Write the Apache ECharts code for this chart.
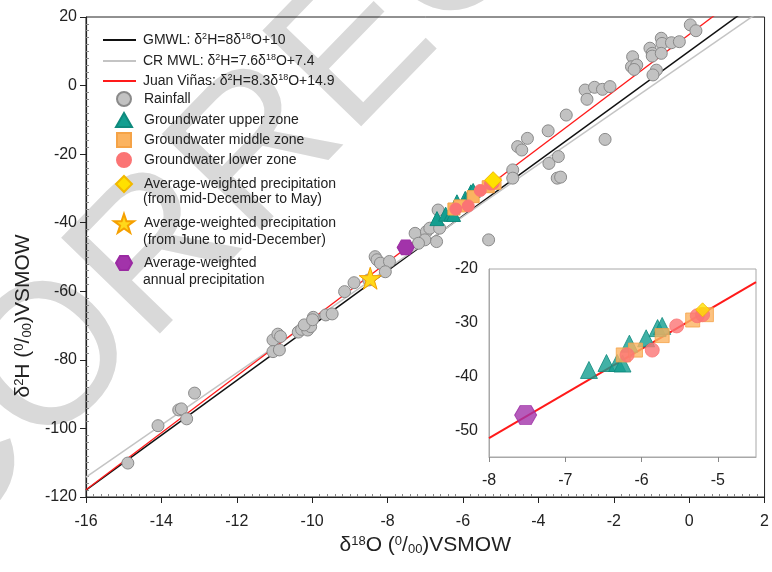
<!DOCTYPE html>
<html>
<head>
<meta charset="utf-8">
<script src="https://cdn.jsdelivr.net/npm/echarts@6/dist/echarts.min.js"></script>
<style>
  html, body { margin: 0; padding: 0; background: #fff; }
  #chart { width: 772px; height: 572px; }
</style>
</head>
<body>
<div id="chart"></div>
<script>
// --- data (delta18O, delta2H) ---
const rainfall = [
  [-14.89, -110.1], [-14.09, -99.2], [-13.54, -94.6], [-13.47, -94.3], [-13.33, -97.2], [-13.12, -89.7],
  [-11.04, -74.2], [-10.91, -72.5], [-10.84, -73.2], [-11.04, -77.6], [-10.87, -77.1],
  [-10.37, -71.9], [-10.28, -71.1], [-10.12, -71.3], [-10.04, -70.3], [-9.97, -67.6], [-9.64, -66.9], [-9.47, -66.6],
  [-10.21, -69.8], [-9.99, -68.3], [-9.14, -60.1], [-8.89, -57.5], [-8.50, -56.7],
  [-8.33, -49.9], [-8.28, -50.8], [-8.19, -51.8], [-7.95, -51.3], [-8.06, -54.3],
  [-7.27, -43.1], [-6.97, -42.6], [-6.88, -41.6], [-7.01, -45.0], [-6.70, -45.5], [-6.62, -41.6],
  [-6.66, -36.3], [-7.18, -46.0], [-5.32, -45.0],
  [-4.68, -24.6], [-4.68, -27.0], [-4.55, -17.8], [-4.44, -18.8], [-4.29, -15.4], [-3.74, -13.2],
  [-3.72, -22.7], [-3.47, -20.7], [-3.50, -27.0], [-3.41, -26.7], [-3.26, -8.6], [-2.23, -15.7],
  [-2.76, -1.3], [-2.71, -4.0], [-2.51, -0.5], [-2.30, -1.1], [-2.10, -0.3],
  [-1.50, 8.4], [-1.53, 5.5], [-1.39, 6.0], [-1.46, 4.7],
  [-1.04, 10.9], [-0.98, 9.4], [-0.98, 8.6], [-0.74, 13.8], [-0.72, 12.3], [-0.74, 9.4],
  [-0.47, 12.5], [-0.26, 12.8], [-0.87, 4.5], [-0.96, 3.1], [0.03, 17.7], [0.18, 16.0]
];
const gwUpper = [
  [-6.69, -38.8], [-6.46, -37.5], [-6.32, -37.5], [-6.25, -37.6], [-6.16, -33.9],
  [-5.94, -32.9], [-5.79, -31.0], [-5.73, -30.6]
];
const gwMiddle = [[-6.24, -36.0], [-6.08, -35.1], [-5.73, -32.4], [-5.33, -29.5], [-5.15, -28.5]];
const gwLower = [[-6.19, -36.0], [-5.86, -35.1], [-5.54, -30.6], [-5.27, -28.7], [-5.20, -28.5]];
const awpDecMay = [[-5.20, -27.6]];
const awpJunDec = [[-8.46, -56.2]];
const awpAnnual = [[-7.52, -47.2]];

// meteoric water lines: d2H = slope * d18O + intercept
const mwlNames = ['GMWL', 'CR MWL', 'Juan Viñas'];
const mwlSlopes = [8, 7.6, 8.3];
const mwlIntercepts = [10, 7.4, 14.9];
const mwlLabels = [
  'GMWL: δ{sup|2}H=8δ{sup|18}O+10',
  'CR MWL: δ{sup|2}H=7.6δ{sup|18}O+7.4',
  'Juan Viñas: δ{sup|2}H=8.3δ{sup|18}O+14.9'
];
const mwlColors = ['#111111', '#c4c4c4', '#ff1a1a'];

const xTicksInset = [-8, -7, -6, -5];
const yTicksInset = [-50, -40, -30, -20];

const FONT = '"Liberation Sans", Arial, sans-serif';
const HEX = 'path://M0,5 L2.9,0 L8.7,0 L11.6,5 L8.7,10 L2.9,10 Z';
const STAR = 'path://M50,0 L61.8,35.1 L98.9,35.1 L68.9,56.9 L80.3,91.9 L50,70.3 L19.7,91.9 L31.1,56.9 L1.1,35.1 L38.2,35.1 Z';

const sup = { fontSize: 9, verticalAlign: 'top', lineHeight: 9, fontFamily: FONT, color: '#222' };
const sub = { fontSize: 9, verticalAlign: 'bottom', lineHeight: 9, fontFamily: FONT, color: '#222' };
const titleRich = { sup: { ...sup, fontSize: 13, lineHeight: 12 }, sub: { ...sub, fontSize: 13, lineHeight: 12 } };

function lineData(i, x0, x1) {
  return [[x0, mwlSlopes[i] * x0 + mwlIntercepts[i]], [x1, mwlSlopes[i] * x1 + mwlIntercepts[i]]];
}

const chart = echarts.init(document.getElementById('chart'), null, { renderer: 'canvas' });

const series = [];
mwlNames.forEach((n, i) => {
  series.push({
    name: n, type: 'line', xAxisIndex: 0, yAxisIndex: 0,
    data: lineData(i, -16, 2), symbol: 'none', clip: true, silent: true,
    itemStyle: { color: mwlColors[i] },
    lineStyle: { color: mwlColors[i], width: i === 2 ? 1.3 : 1.5 },
    z: 1
  });
});

const markers = [
  { name: 'Rainfall', data: rainfall, symbol: 'circle', size: 12, color: '#c2c2c2', border: '#8a8a8a', icon: [14, 14] },
  { name: 'Groundwater upper zone', data: gwUpper, symbol: 'triangle', size: 14, color: '#139e90', border: '#0f8a7d', icon: [16, 14] },
  { name: 'Groundwater middle zone', data: gwMiddle, symbol: 'rect', size: 12, color: '#fbb360', border: '#f5a347', icon: [14, 14] },
  { name: 'Groundwater lower zone', data: gwLower, symbol: 'circle', size: 12, color: '#fb7474', border: '#fb7474', icon: [14, 14] },
  { name: 'Average-weighted precipitation', data: awpDecMay, symbol: 'diamond', size: 17, color: '#ffe100', border: '#f2b800', icon: [16, 16] },
  { name: 'Average-weighted precipitation ', data: awpJunDec, symbol: STAR, size: 22, color: '#ffd81a', border: '#f5a000', icon: [20, 20] },
  { name: 'Average-weighted', data: awpAnnual, symbol: HEX, size: [17, 15], color: '#a233aa', border: '#9a2aa2', icon: [16, 14] }
];
markers.forEach((m) => {
  series.push({
    name: m.name, type: 'scatter', xAxisIndex: 0, yAxisIndex: 0, data: m.data,
    symbol: m.symbol, symbolSize: m.size,
    itemStyle: { color: m.color, borderColor: m.border, borderWidth: 1, opacity: 1 },
    z: 3
  });
});

// inset
series.push({
  name: 'inset-line', type: 'line', xAxisIndex: 1, yAxisIndex: 1,
  data: lineData(2, -8, -4.5), symbol: 'none', silent: true,
  lineStyle: { color: '#ff1a1a', width: 2 }, z: 7
});
markers.slice(1).forEach((m) => {
  if (m.data === awpJunDec) return;
  let size = m.size;
  if (m.symbol === 'triangle') size = 17;
  if (m.symbol === 'rect') size = 14;
  if (m.symbol === 'circle') size = 14;
  if (m.symbol === 'diamond') size = 14;
  if (m.symbol === HEX) size = [22, 19];
  series.push({
    name: 'inset ' + m.name, type: 'scatter', xAxisIndex: 1, yAxisIndex: 1, data: m.data,
    symbol: m.symbol, symbolSize: size,
    itemStyle: { color: m.color, borderColor: m.border, borderWidth: 1 },
    z: 8
  });
});

// one legend per row so the row spacing can follow the figure
const legendRows = [
  { name: 'GMWL', text: mwlLabels[0], top: 32, line: 0 },
  { name: 'CR MWL', text: mwlLabels[1], top: 53, line: 1 },
  { name: 'Juan Viñas', text: mwlLabels[2], top: 73, line: 2 },
  { name: 'Rainfall', text: 'Rainfall', top: 91, m: 0 },
  { name: 'Groundwater upper zone', text: 'Groundwater upper zone', top: 112, m: 1 },
  { name: 'Groundwater middle zone', text: 'Groundwater middle zone', top: 132, m: 2 },
  { name: 'Groundwater lower zone', text: 'Groundwater lower zone', top: 152, m: 3 },
  { name: 'Average-weighted precipitation', text: 'Average-weighted precipitation', top: 175, m: 4 },
  { name: 'Average-weighted precipitation ', text: 'Average-weighted precipitation', top: 213, m: 5 },
  { name: 'Average-weighted', text: 'Average-weighted', top: 255, m: 6 }
];
const legends = legendRows.map((r) => {
  const isLine = r.line !== undefined;
  const w = isLine ? 33 : markers[r.m].icon[0];
  const h = isLine ? 2 : markers[r.m].icon[1];
  const left = isLine ? 103 : Math.round(123 - w / 2);
  const padLeft = Math.max(0, 143 - (left + w + 5));
  return {
    data: [isLine ? { name: r.name, icon: 'rect', itemStyle: { color: mwlColors[r.line] } } : r.name],
    left, top: r.top, padding: 0,
    itemWidth: w, itemHeight: h,
    selectedMode: false,
    formatter: () => r.text,
    textStyle: { fontSize: 14, fontFamily: FONT, color: '#222', lineHeight: 16, padding: [0, 0, 0, padLeft], rich: { sup } }
  };
});

const secondLines = [
  { text: '(from mid-December to May)', y: 199 },
  { text: '(from June to mid-December)', y: 240 },
  { text: 'annual precipitation', y: 280 }
];

chart.setOption({
  backgroundColor: '#fff',
  animation: false,
  graphic: [
    {
      type: 'text', z: -10, silent: true,
      x: -100, y: 522, rotation: 0.8,
      style: { text: 'CORRECTED', fontSize: 200, fontFamily: FONT, fill: '#d9d9d9', align: 'left', verticalAlign: 'middle' }
    },
    ...secondLines.map((s) => ({
      type: 'text', x: 143, y: s.y, z: 10,
      style: { text: s.text, fontSize: 14, fontFamily: FONT, fill: '#222', verticalAlign: 'middle' }
    }))
  ],
  legend: legends,
  grid: [
    { left: 86, right: 1, top: 17, bottom: 75, show: true, borderColor: '#222', borderWidth: 1, backgroundColor: 'transparent' },
    { left: 489, top: 269, width: 267, height: 188, show: true, borderColor: '#a8a8a8', borderWidth: 1, backgroundColor: '#fff', z: 5 }
  ],
  xAxis: [
    {
      gridIndex: 0, type: 'value', min: -16, max: 2, interval: 2,
      name: 'δ{sup|18}O ({sup|0}/{sub|00})VSMOW', nameLocation: 'middle', nameGap: 38,
      nameTextStyle: { fontSize: 21, fontFamily: FONT, color: '#222', rich: titleRich },
      axisLine: { onZero: false, lineStyle: { color: '#222', width: 1.2 } },
      axisTick: { length: 6, lineStyle: { color: '#222' } },
      minorTick: { show: true, splitNumber: 10, length: -3, lineStyle: { color: '#888' } },
      axisLabel: { fontSize: 16, fontFamily: FONT, color: '#222', margin: 17 },
      splitLine: { show: false }
    },
    {
      gridIndex: 1, type: 'value', min: -8, max: -4.5, z: 6,
      axisLine: { onZero: false, lineStyle: { color: '#a8a8a8' } },
      axisTick: { length: 5, customValues: xTicksInset, lineStyle: { color: '#888' } },
      axisLabel: { customValues: xTicksInset, fontSize: 16, fontFamily: FONT, color: '#222', margin: 16 },
      splitLine: { show: false }
    }
  ],
  yAxis: [
    {
      gridIndex: 0, type: 'value', min: -120, max: 20, interval: 20,
      name: 'δ{sup|2}H ({sup|0}/{sub|00})VSMOW', nameLocation: 'middle', nameGap: 52, nameRotate: 90,
      nameTextStyle: { fontSize: 21, fontFamily: FONT, color: '#222', padding: [0, 118, 0, 0], rich: titleRich },
      axisLine: { onZero: false, lineStyle: { color: '#222', width: 1.2 } },
      axisTick: { length: 6, lineStyle: { color: '#222' } },
      minorTick: { show: true, splitNumber: 10, length: -3, lineStyle: { color: '#888' } },
      axisLabel: { fontSize: 16, fontFamily: FONT, color: '#222', margin: 9 },
      splitLine: { show: false }
    },
    {
      gridIndex: 1, type: 'value', min: -55, max: -20, z: 6,
      axisLine: { onZero: false, lineStyle: { color: '#a8a8a8' } },
      axisTick: { show: false },
      axisLabel: { customValues: yTicksInset, fontSize: 16, fontFamily: FONT, color: '#222', margin: 11 },
      splitLine: { show: false }
    }
  ],
  series
});
</script>
</body>
</html>
